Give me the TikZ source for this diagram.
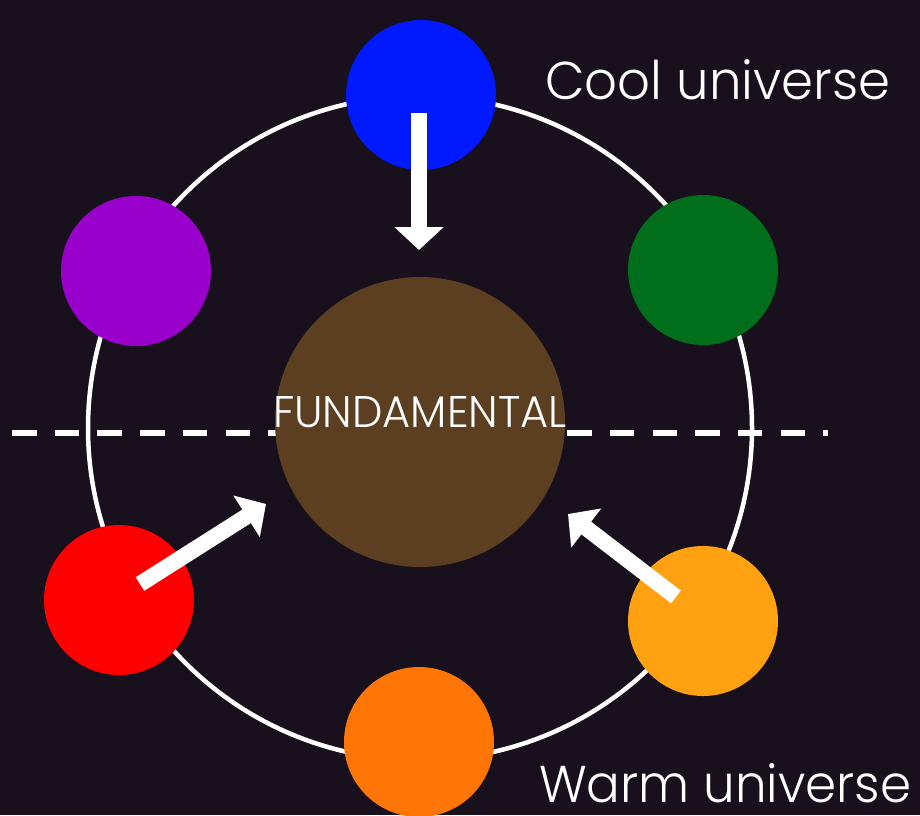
\documentclass[tikz,border=0pt]{standalone}
\usepackage{fontspec}
\setmainfont{Poppins}[UprightFont=* Light]
\usetikzlibrary{arrows.meta}
\definecolor{bg}{RGB}{24,16,28}
\definecolor{cblue}{RGB}{0,25,255}
\definecolor{cgreen}{RGB}{0,110,26}
\definecolor{cpurple}{RGB}{153,0,204}
\definecolor{cred}{RGB}{255,0,0}
\definecolor{corange}{RGB}{255,117,6}
\definecolor{cyellow}{RGB}{255,161,16}
\definecolor{cbrown}{RGB}{92,63,32}
\tikzset{
  ball/.style={circle, minimum size=150pt, inner sep=0pt},
  bigarrow/.style={white, line width=16pt, -{Triangle[width=48pt,length=23pt]}},
  lbl/.style={text=white, inner sep=0pt, font=\fontsize{56}{60}\selectfont},
}
\begin{document}
\begin{tikzpicture}[x=1pt,y=-1pt]
\fill[bg] (0,0) rectangle (920,815);
\useasboundingbox (0,0) rectangle (920,815);
\coordinate (dl) at (12,433);
\coordinate (dr) at (828,433);
\draw[white, line width=6pt, dash pattern=on 24.5pt off 18.2pt] (dl) -- (dr);
\node[circle, draw=white, line width=4.5pt, minimum size=664pt, inner sep=0pt] (ring) at (420,428) {};
\node[ball, fill=cbrown, minimum size=290pt] (fund) at (420,422) {};
\node[ball, fill=cblue] (blue) at (421,95) {};
\node[ball, fill=cgreen] (green) at (703,270) {};
\node[ball, fill=cpurple] (purple) at (136,271) {};
\node[ball, fill=cred] (red) at (119,600) {};
\node[ball, fill=corange] (orange) at (419,742) {};
\node[ball, fill=cyellow] (yellow) at (703,621) {};
\node[text=white, inner sep=0pt, anchor=base] (ftext) at (420,427) {\resizebox{294pt}{31pt}{FUNDAMENTAL}};
\coordinate (b1) at (419,113);
\coordinate (b2) at (419,250);
\coordinate (r1) at (140,584);
\coordinate (r2) at (266,504);
\coordinate (y1) at (676,597);
\coordinate (y2) at (568,514);
\draw[bigarrow] (b1) -- (b2);
\draw[bigarrow] (r1) -- (r2);
\draw[bigarrow] (y1) -- (y2);
\node[lbl, anchor=base west] (cool) at (545,99) {\resizebox{345pt}{40pt}{Cool universe}};
\node[lbl, anchor=base west] (warm) at (539,802) {\resizebox{372pt}{39pt}{Warm universe}};
\end{tikzpicture}
\end{document}
